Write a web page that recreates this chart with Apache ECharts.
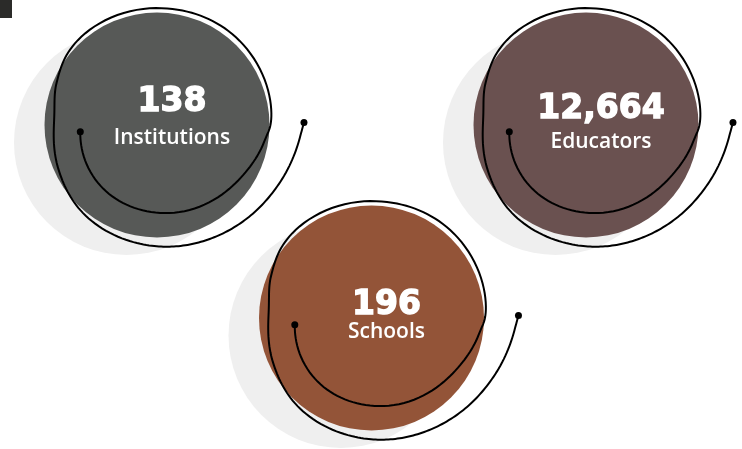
<!DOCTYPE html>
<html>
<head>
<meta charset="utf-8">
<script src="https://cdn.jsdelivr.net/npm/echarts@6/dist/echarts.min.js"></script>
<style>
  html, body { margin: 0; padding: 0; background: #ffffff; }
  #chart { width: 742px; height: 449px; }
</style>
</head>
<body>
<div id="chart"></div>
<script>
// ---- data ----
const categories = ['Institutions', 'Educators', 'Schools'];
const values = [138, 12664, 196];
const colors = ['#575957', '#6a5150', '#935438'];

// ---- layout (column / row slot of each circle) ----
const slots = [[0, 0], [2, 0], [1, 1]];
const numberDy = [-23, -16, -13];
const nameDy = [13, 17, 14];

// ---- decoration: hand-drawn spiral template, [angle in degrees, radius in px] around the circle centre ----
const spiralTemplate = [
  [175, 77], [133, 83], [88, 88], [39, 97], [10, 108], [-6, 115], [-48, 118],
  [-85, 117], [-133, 116], [-157, 109], [-177, 103], [-204, 108], [-230, 115],
  [-262, 120], [-280, 123], [-297, 126], [-315, 130], [-333, 135], [-354, 143], [-361, 147]
];

function sampleSpline(pts, steps) {
  const out = [];
  const n = pts.length;
  for (let i = 0; i < n - 1; i++) {
    const p0 = pts[Math.max(i - 1, 0)], p1 = pts[i], p2 = pts[i + 1], p3 = pts[Math.min(i + 2, n - 1)];
    for (let s = 0; s < steps; s++) {
      const t = s / steps, t2 = t * t, t3 = t2 * t;
      const f = (a, b, c, d) => 0.5 * (2 * b + (-a + c) * t + (2 * a - 5 * b + 4 * c - d) * t2 + (-a + 3 * b - 3 * c + d) * t3);
      out.push([f(p0[0], p1[0], p2[0], p3[0]), f(p0[1], p1[1], p2[1], p3[1])]);
    }
  }
  out.push(pts[n - 1]);
  return out;
}
const spiral = sampleSpline(spiralTemplate, 16).map(([a, r]) => {
  const t = a * Math.PI / 180;
  return [r * Math.cos(t), r * Math.sin(t)];
});

const chart = echarts.init(document.getElementById('chart'), null, { renderer: 'canvas' });

const pointData = categories.map((c, i) => ({
  name: c,
  value: [slots[i][0], slots[i][1], values[i]],
  itemStyle: { color: colors[i], opacity: 1 }
}));

const option = {
  animation: false,
  backgroundColor: '#ffffff',
  grid: { left: 157, right: 156, top: 125, bottom: 131 },
  xAxis: { type: 'value', min: 0, max: 2, show: false },
  yAxis: { type: 'value', min: 0, max: 1, inverse: true, show: false },
  graphic: [{
    type: 'rect', left: 0, top: 0, shape: { width: 12, height: 18 },
    style: { fill: '#2b2b29' }, silent: true
  }],
  series: [
    {
      type: 'scatter', silent: true, z: 1,
      symbolSize: 225, symbolOffset: [-30.5, 17.5],
      itemStyle: { color: '#efefef', opacity: 1 },
      data: pointData.map(d => ({ value: d.value }))
    },
    {
      type: 'scatter', silent: true, z: 2,
      symbolSize: 225,
      itemStyle: { opacity: 1 },
      data: pointData
    },
    {
      type: 'custom', silent: true, z: 3,
      data: pointData.map(d => d.value),
      renderItem: function (params, api) {
        const i = params.dataIndex;
        const c = api.coord([api.value(0), api.value(1)]);
        const pts = spiral.map(p => [c[0] + p[0], c[1] + p[1]]);
        const first = pts[0], last = pts[pts.length - 1];
        return {
          type: 'group',
          children: [
            { type: 'polyline', shape: { points: pts }, style: { stroke: '#000', lineWidth: 2, fill: null } },
            { type: 'circle', shape: { cx: first[0], cy: first[1], r: 3.5 }, style: { fill: '#000' } },
            { type: 'circle', shape: { cx: last[0], cy: last[1], r: 3.5 }, style: { fill: '#000' } },
            {
              type: 'text',
              style: {
                x: c[0] + 15, y: c[1] + numberDy[i],
                text: values[i].toLocaleString('en-US'),
                fill: '#ffffff', stroke: '#ffffff', lineWidth: 1.4,
                align: 'center', verticalAlign: 'middle',
                font: 'bold 33px "DejaVu Sans"'
              }
            },
            {
              type: 'text',
              style: {
                x: c[0] + 15, y: c[1] + nameDy[i],
                text: categories[i],
                fill: '#ffffff', align: 'center', verticalAlign: 'middle',
                font: '600 21px "Open Sans"'
              }
            }
          ]
        };
      }
    }
  ]
};
chart.setOption(option);
</script>
</body>
</html>
